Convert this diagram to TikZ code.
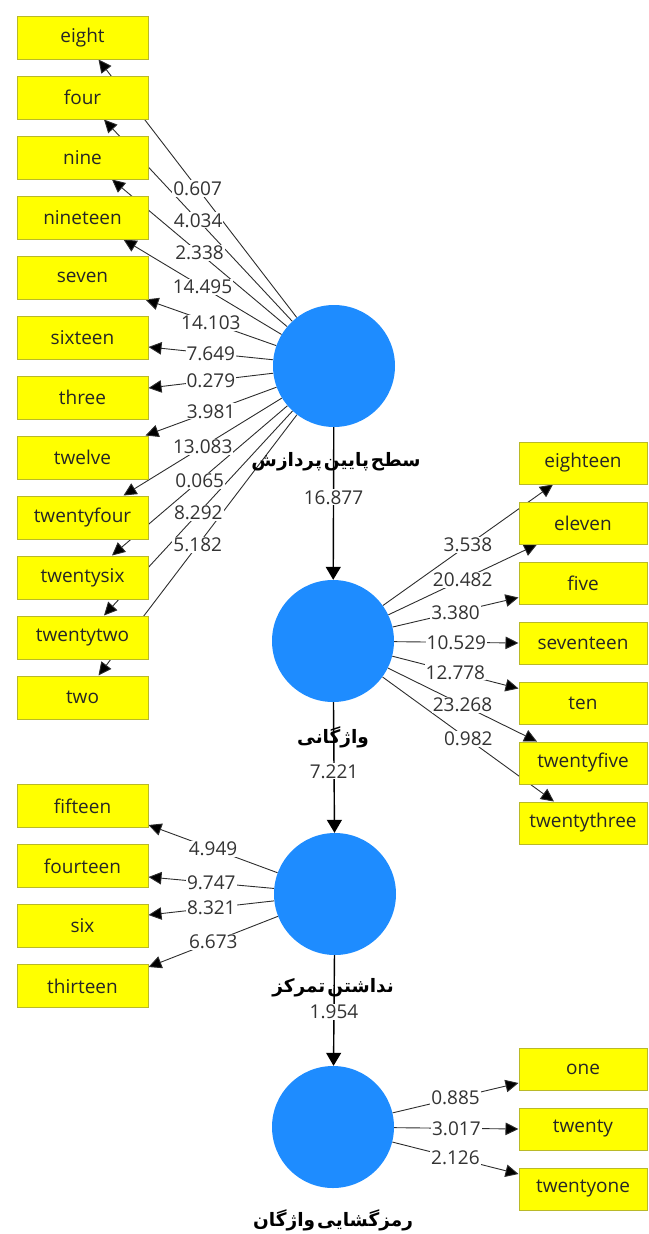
\documentclass[tikz,border=0pt]{standalone}
\usepackage{fontspec}
\setmainfont{Open Sans}
\newfontfamily\fa[Script=Arabic]{DejaVu Sans}
\TeXXeTstate=1
\usetikzlibrary{arrows.meta,calc}
\pgfdeclarelayer{bg}
\pgfsetlayers{bg,main}
\definecolor{boxfill}{RGB}{255,255,0}
\definecolor{boxline}{RGB}{185,185,40}
\definecolor{lvfill}{RGB}{30,140,255}
\definecolor{edgec}{RGB}{45,45,45}
\newcommand{\ws}{\hspace{2pt}}
\tikzset{
  ind/.style={rectangle, draw=boxline, line width=1pt, fill=boxfill,
    minimum width=131pt, minimum height=43pt, inner sep=0pt,
    font=\fontsize{19}{22}\selectfont, text=black!85},
  indr/.style={ind, minimum width=128pt, minimum height=42pt},
  lvc/.style={circle, fill=lvfill, minimum size=122pt, inner sep=0pt},
  edge/.style={draw=edgec, line width=0.9pt, -{Triangle[length=13pt,width=12.5pt,fill=black]}},
  struct/.style={draw=black, line width=1.4pt, -{Triangle[length=13pt,width=15pt]}},
  num/.style={fill=white, inner sep=1pt, font=\fontsize{19}{22}\selectfont, text=black!80},
  lvname/.style={font=\fa\bfseries\fontsize{18.5}{21}\selectfont, inner sep=1pt}
}
\begin{document}
\begin{tikzpicture}[x=1pt,y=-1pt]
\useasboundingbox (0,0) rectangle (648,1234);

% latent variables
\node[lvc] (c1) at (334,366) {};
\node[lvc] (c2) at (333,641) {};
\node[lvc] (c3) at (335,894) {};
\node[lvc] (c4) at (333,1127) {};

\node[lvname] (n1) at (336,462) {\beginR سطح\ws پایین\ws پردازش\endR};
\node[lvname] (n2) at (333,737) {\beginR واژگانی\endR};
\node[lvname] (n3) at (333,988) {\beginR نداشتن\ws تمرکز\endR};
\node[lvname] (n4) at (333,1220) {\beginR رمزگشایی\ws واژگان\endR};

% indicators
\foreach \n [count=\i from 0] in {eight,four,nine,nineteen,seven,sixteen,three,twelve,twentyfour,twentysix,twentytwo,two}
  \node[ind] (\n) at (82.5,37.5+60*\i) {\n};
\foreach \n [count=\i from 0] in {eighteen,eleven,five,seventeen,ten,twentyfive,twentythree}
  \node[indr] (\n) at (583,463+60*\i) {\n};
\foreach \n [count=\i from 0] in {fifteen,fourteen,six,thirteen}
  \node[ind] (\n) at (82.5,806+60*\i) {\n};
\foreach \n [count=\i from 0] in {one,twenty,twentyone}
  \node[indr] (\n) at (583,1069+60*\i) {\n};

% arrow end points on the indicator boxes
\coordinate (eight-in) at ($(eight.south)+(16,0)$);
\coordinate (four-in) at ($(four.south)+(21.5,0)$);
\coordinate (nine-in) at ($(nine.south)+(29.5,0)$);
\coordinate (nineteen-in) at ($(nineteen.south)+(41,0)$);
\coordinate (seven-in) at ($(seven.south)+(63,0)$);
\coordinate (sixteen-in) at ($(sixteen.east)+(0,9.5)$);
\coordinate (three-in) at ($(three.east)+(0,-9.5)$);
\coordinate (twelve-in) at ($(twelve.north)+(63,0)$);
\coordinate (twentyfour-in) at ($(twentyfour.north)+(41,0)$);
\coordinate (twentysix-in) at ($(twentysix.north)+(29.5,0)$);
\coordinate (twentytwo-in) at ($(twentytwo.north)+(21.5,0)$);
\coordinate (two-in) at ($(two.north)+(16,0)$);

\coordinate (eighteen-in) at ($(eighteen.south)+(-30,0)$);
\coordinate (eleven-in) at ($(eleven.south)+(-46,0)$);
\coordinate (five-in) at ($(five.west)+(0,14.5)$);
\coordinate (seventeen-in) at (seventeen.west);
\coordinate (ten-in) at ($(ten.west)+(0,-14.5)$);
\coordinate (twentyfive-in) at ($(twentyfive.north)+(-46,0)$);
\coordinate (twentythree-in) at ($(twentythree.north)+(-29,0)$);

\coordinate (fifteen-in) at ($(fifteen.east)+(0,19)$);
\coordinate (fourteen-in) at ($(fourteen.east)+(0,11)$);
\coordinate (six-in) at ($(six.east)+(0,-11)$);
\coordinate (thirteen-in) at ($(thirteen.east)+(0,-19)$);

\coordinate (one-in) at ($(one.west)+(0,14)$);
\coordinate (twenty-in) at (twenty.west);
\coordinate (twentyone-in) at ($(twentyone.west)+(0,-15)$);

\begin{pgfonlayer}{bg}
  \foreach \n in {eight,four,nine,nineteen,seven,sixteen,three,twelve,twentyfour,twentysix,twentytwo,two}
    \draw[edge] (c1) -- coordinate[pos=0.5] (\n-lab) (\n-in);
  \foreach \n in {eighteen,eleven,five,seventeen,ten,twentyfive,twentythree}
    \draw[edge] (c2) -- coordinate[pos=0.5] (\n-lab) (\n-in);
  \foreach \n in {fifteen,fourteen,six,thirteen}
    \draw[edge] (c3) -- coordinate[pos=0.5] (\n-lab) (\n-in);
  \foreach \n in {one,twenty,twentyone}
    \draw[edge] (c4) -- coordinate[pos=0.5] (\n-lab) (\n-in);
  \draw[struct] (c1) -- coordinate[pos=0.46] (s1-lab) (c2);
  \draw[struct] (c2) -- coordinate[pos=0.53] (s2-lab) (c3);
  \draw[struct] (c3) -- coordinate[pos=0.51] (s3-lab) (c4);
\end{pgfonlayer}

% path coefficients
\foreach \n/\v in {eight/0.607,four/4.034,nine/2.338,nineteen/14.495,seven/14.103,sixteen/7.649,three/0.279,twelve/3.981,twentyfour/13.083,twentysix/0.065,twentytwo/8.292,two/5.182,
  eighteen/3.538,eleven/20.482,five/3.380,seventeen/10.529,ten/12.778,twentyfive/23.268,twentythree/0.982,
  fifteen/4.949,fourteen/9.747,six/8.321,thirteen/6.673,
  one/0.885,twenty/3.017,twentyone/2.126,
  s1/16.877,s2/7.221,s3/1.954}
  \node[num] (\n-v) at (\n-lab) {\v};
\end{tikzpicture}
\end{document}
